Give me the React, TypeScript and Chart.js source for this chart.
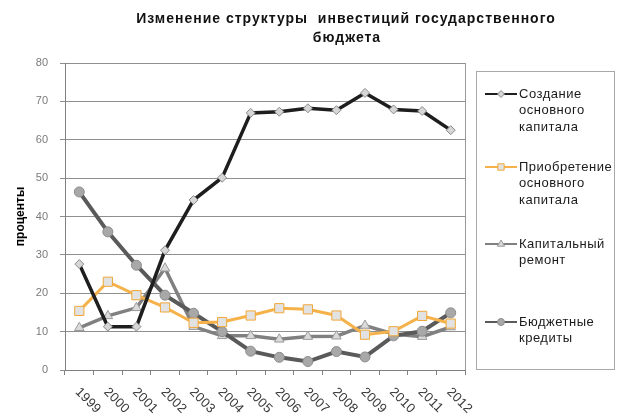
import { useEffect, useRef } from 'react';
import { Chart, registerables } from 'chart.js';

Chart.register(...registerables);

const FONT = '"Liberation Sans", Arial, sans-serif';

const titleLines = ['Изменение структуры  инвестиций государственного', 'бюджета'];
const yAxisTitle = 'проценты';
const categories = ['1999', '2000', '2001', '2002', '2003', '2004', '2005', '2006', '2007', '2008', '2009', '2010', '2011', '2012'];
const yTicks = [0, 10, 20, 30, 40, 50, 60, 70, 80];

const seriesNames = ['Создание основного капитала', 'Приобретение основного капитала', 'Капитальный ремонт', 'Бюджетные кредиты'];
const legendLines1 = ['Создание', 'основного', 'капитала'];
const legendLines2 = ['Приобретение', 'основного', 'капитала'];
const legendLines3 = ['Капитальный', 'ремонт'];
const legendLines4 = ['Бюджетные', 'кредиты'];

const createCapital = [27.6, 11.3, 11.3, 31.2, 44.3, 50.1, 67.0, 67.3, 68.2, 67.7, 72.2, 67.9, 67.5, 62.5];
const acquireCapital = [15.4, 23.0, 19.5, 16.3, 12.3, 12.5, 14.2, 16.1, 15.8, 14.2, 9.2, 10.1, 14.1, 12.1];
const capitalRepair = [11.0, 14.1, 16.2, 26.5, 11.3, 8.9, 8.9, 8.0, 8.7, 8.8, 11.6, 9.4, 8.7, 11.2];
const budgetLoans = [46.4, 36.0, 27.3, 19.5, 14.8, 10.0, 4.9, 3.3, 2.2, 4.8, 3.4, 8.9, 10.1, 14.9];

type Style = { line: string; fill: string; border: string; shape: string; width: number; radius: number; legendR: number };
const styles: Style[] = [
  { line: '#1e1e1e', fill: '#d6d6d6', border: '#8a8a8a', shape: 'rectRot', width: 3.5, radius: 4.5, legendR: 3.5 },
  { line: '#f6b24a', fill: '#e2e2e2', border: '#f0a838', shape: 'rect', width: 3, radius: 6.5, legendR: 4.5 },
  { line: '#808080', fill: '#dadada', border: '#9a9a9a', shape: 'triangle', width: 3.5, radius: 5.5, legendR: 4 },
  { line: '#5a5a5a', fill: '#a8a8a8', border: '#8c8c8c', shape: 'circle', width: 4, radius: 5, legendR: 3.5 },
];
const seriesValues = [createCapital, acquireCapital, capitalRepair, budgetLoans];
const legendGroups = [legendLines1, legendLines2, legendLines3, legendLines4];
const drawOrder = [1, 2, 4, 3];

function drawMarker(ctx: CanvasRenderingContext2D, shape: string, x: number, y: number, r: number, fill: string, border: string) {
  ctx.save();
  ctx.fillStyle = fill;
  ctx.strokeStyle = border;
  ctx.lineWidth = 1;
  ctx.beginPath();
  if (shape === 'rectRot') {
    ctx.moveTo(x, y - r);
    ctx.lineTo(x + r, y);
    ctx.lineTo(x, y + r);
    ctx.lineTo(x - r, y);
    ctx.closePath();
  } else if (shape === 'rect') {
    const s = r * Math.SQRT1_2;
    ctx.rect(x - s, y - s, 2 * s, 2 * s);
  } else if (shape === 'triangle') {
    ctx.moveTo(x, y - r);
    ctx.lineTo(x + r * 0.9, y + r * 0.55);
    ctx.lineTo(x - r * 0.9, y + r * 0.55);
    ctx.closePath();
  } else {
    ctx.arc(x, y, r, 0, Math.PI * 2);
  }
  ctx.fill();
  ctx.stroke();
  ctx.restore();
}

const decorPlugin = {
  id: 'decor',
  beforeDatasetsDraw(chart: any) {
    const { ctx, chartArea } = chart;
    ctx.save();
    ctx.strokeStyle = '#9a9a9a';
    ctx.lineWidth = 1;
    ctx.beginPath();
    ctx.moveTo(Math.round(chartArea.right) + 0.5, chartArea.top);
    ctx.lineTo(Math.round(chartArea.right) + 0.5, chartArea.bottom);
    ctx.stroke();
    ctx.restore();
  },
  afterDraw(chart: any) {
    const { ctx, chartArea } = chart;
    const xScale = chart.scales.x;
    ctx.save();
    // title
    ctx.fillStyle = '#111';
    ctx.font = `bold 14px ${FONT}`;
    (ctx as any).letterSpacing = '1px';
    ctx.textAlign = 'center';
    ctx.textBaseline = 'middle';
    ctx.fillText(titleLines[0], 346, 19);
    ctx.fillText(titleLines[1], 347, 38);

    // x labels rotated
    ctx.font = `13px ${FONT}`;
    (ctx as any).letterSpacing = '0.3px';
    ctx.fillStyle = '#3a3a3a';
    ctx.textAlign = 'left';
    categories.forEach((c, i) => {
      const x = xScale.getPixelForTick(i);
      ctx.save();
      ctx.translate(x - 2, chartArea.bottom + 20);
      ctx.rotate(Math.PI / 4);
      ctx.fillText(c, 0, 0);
      ctx.restore();
    });

    // legend
    (ctx as any).letterSpacing = '0.5px';
    ctx.strokeStyle = '#a8a8a8';
    ctx.lineWidth = 1;
    ctx.strokeRect(476.5, 71.5, 138, 298);
    const rowY = [94, 167, 244, 322];
    ctx.font = `13px ${FONT}`;
    ctx.fillStyle = '#1a1a1a';
    ctx.textAlign = 'left';
    ctx.textBaseline = 'middle';
    legendGroups.forEach((lines, i) => {
      const st = styles[i];
      const y = rowY[i];
      ctx.save();
      ctx.strokeStyle = st.line;
      ctx.lineWidth = 2;
      ctx.beginPath();
      ctx.moveTo(485, y);
      ctx.lineTo(517, y);
      ctx.stroke();
      ctx.restore();
      drawMarker(ctx, st.shape, 501, y, st.legendR, st.fill, st.border);
      lines.forEach((t, j) => {
        ctx.fillStyle = '#1a1a1a';
        ctx.fillText(t, 519, y + j * 16.8);
      });
    });
    ctx.restore();
  },
};

export default function App() {
  const ref = useRef<HTMLCanvasElement | null>(null);
  useEffect(() => {
    if (!ref.current) return;
    const chart = new Chart(ref.current, {
      type: 'line',
      data: {
        labels: categories,
        datasets: seriesValues.map((vals, i) => ({
          label: seriesNames[i],
          data: vals,
          borderColor: styles[i].line,
          borderWidth: styles[i].width,
          backgroundColor: styles[i].fill,
          pointStyle: styles[i].shape as any,
          pointRadius: styles[i].radius,
          pointBackgroundColor: styles[i].fill,
          pointBorderColor: styles[i].border,
          pointBorderWidth: 1,
          tension: 0,
          fill: false,
          order: drawOrder[i],
        })),
      },
      options: {
        animation: false,
        responsive: false,
        layout: { padding: { left: 0, top: 63, right: 153, bottom: 0 } },
        plugins: {
          legend: { display: false },
          title: { display: false },
          tooltip: { enabled: false },
        },
        scales: {
          x: {
            type: 'category',
            offset: true,
            grid: { offset: true, drawOnChartArea: false, drawTicks: true, tickLength: 5, color: '#808080' },
            border: { display: true, color: '#808080', width: 1 },
            ticks: { display: false },
            afterFit: (s: any) => { s.height = 48; },
          },
          y: {
            min: 0,
            max: 80,
            afterBuildTicks: (s: any) => { s.ticks = yTicks.map((v) => ({ value: v })); },
            grid: { color: '#8f8f8f', tickLength: 5, lineWidth: 1 },
            border: { display: true, color: '#808080', width: 1 },
            ticks: { color: '#7a7a7a', font: { family: FONT, size: 11 }, padding: 12 },
            title: { display: true, text: yAxisTitle, color: '#000', font: { family: FONT, size: 12, weight: 'bold' }, padding: { top: 13, bottom: 0 } },
            afterFit: (s: any) => { s.width = 65; },
          },
        },
      },
      plugins: [decorPlugin],
    });
    return () => chart.destroy();
  }, []);
  return (
    <div style={{ position: 'absolute', left: 0, top: 0, width: 618, height: 418, background: '#fff' }}>
      <canvas ref={ref} width={618} height={418} style={{ display: 'block' }} />
    </div>
  );
}
